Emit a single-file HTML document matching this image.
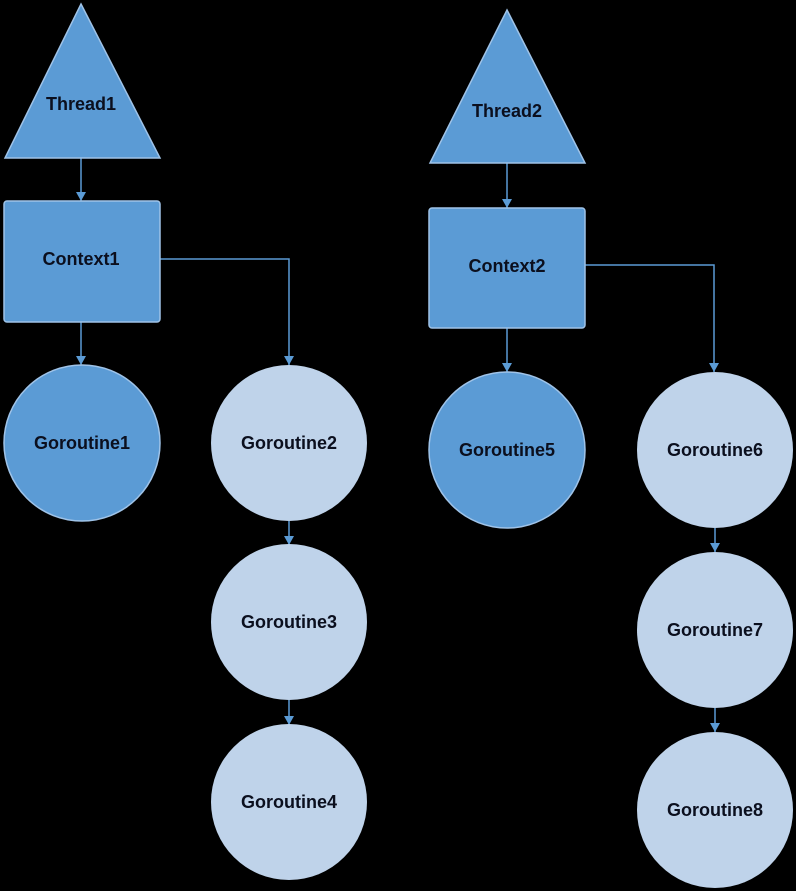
<!DOCTYPE html>
<html><head><style>html,body{margin:0;padding:0;background:#000;}svg{display:block}</style></head>
<body>
<svg width="796" height="891" viewBox="0 0 796 891" xmlns="http://www.w3.org/2000/svg" font-family="'Liberation Sans',sans-serif" font-weight="bold" font-size="18" fill="#0b0f1e">
<defs><marker id="a" markerWidth="10" markerHeight="10" refX="9" refY="5" orient="auto" markerUnits="userSpaceOnUse"><path d="M0,0 L9,5 L0,10z" fill="#5b9bd5"/></marker></defs>
<g stroke="#5b9bd5" stroke-width="1.5" fill="none">
<path d="M81,158 V201" marker-end="url(#a)"/>
<path d="M81,322 V365" marker-end="url(#a)"/>
<path d="M160,259 H289 V365" marker-end="url(#a)"/>
<path d="M289,521 V545" marker-end="url(#a)"/>
<path d="M289,700 V725" marker-end="url(#a)"/>
<path d="M507,163 V208" marker-end="url(#a)"/>
<path d="M507,328 V372" marker-end="url(#a)"/>
<path d="M585,265 H714 V372" marker-end="url(#a)"/>
<path d="M715,528 V552" marker-end="url(#a)"/>
<path d="M715,708 V732" marker-end="url(#a)"/>
</g>
<g fill="#5b9bd5" stroke="#9fc3e8" stroke-width="1.5">
<polygon points="81,4 160,158 5,158"/>
<polygon points="507,10 585,163 430,163"/>
<rect x="4" y="201" width="156" height="121" rx="3"/>
<rect x="429" y="208" width="156" height="120" rx="3"/>
<circle cx="82" cy="443" r="78"/>
<circle cx="507" cy="450" r="78"/>
</g>
<g fill="#bfd3ea">
<circle cx="289" cy="443" r="78"/>
<circle cx="289" cy="622" r="78"/>
<circle cx="289" cy="802" r="78"/>
<circle cx="715" cy="450" r="78"/>
<circle cx="715" cy="630" r="78"/>
<circle cx="715" cy="810" r="78"/>
</g>
<g text-anchor="middle">
<text x="81" y="110">Thread1</text>
<text x="507" y="117">Thread2</text>
<text x="81" y="265">Context1</text>
<text x="507" y="272">Context2</text>
<text x="82" y="449">Goroutine1</text>
<text x="289" y="449">Goroutine2</text>
<text x="289" y="628">Goroutine3</text>
<text x="289" y="808">Goroutine4</text>
<text x="507" y="456">Goroutine5</text>
<text x="715" y="456">Goroutine6</text>
<text x="715" y="636">Goroutine7</text>
<text x="715" y="816">Goroutine8</text>
</g>
</svg>
</body></html>
